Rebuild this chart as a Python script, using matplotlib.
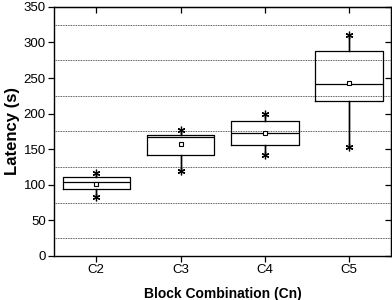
import matplotlib
matplotlib.use("Agg")
import matplotlib.pyplot as plt

# --- data ---
categories = ["C2", "C3", "C4", "C5"]
q1 = [93.8, 142.4, 155.6, 217.4]
median = [103.6, 167.5, 172.4, 241.3]
q3 = [111.5, 170.0, 189.3, 288.1]
mean = [101.6, 157.0, 173.3, 243.6]
whisker_low = [82.5, 119.5, 142.0, 153.2]
whisker_high = [116.7, 176.7, 200.0, 310.2]

plt.rcParams["font.family"] = ["Liberation Sans", "DejaVu Sans"]

fig = plt.figure(figsize=(3.92, 3.0), dpi=100)
ax = fig.add_axes([0.138, 0.147, 0.860, 0.830])

positions = list(range(1, len(categories) + 1))
stats = []
for i, c in enumerate(categories):
    stats.append(dict(label=c, q1=q1[i], med=median[i], q3=q3[i],
                      whislo=whisker_low[i], whishi=whisker_high[i],
                      mean=mean[i], fliers=[]))

ax.bxp(stats, positions=positions, widths=0.8, showmeans=True, showcaps=False,
       showfliers=False,
       boxprops=dict(color="black", linewidth=0.9),
       medianprops=dict(color="black", linewidth=0.9),
       whiskerprops=dict(color="black", linewidth=1.0),
       meanprops=dict(marker="s", markersize=3.2, markerfacecolor="white",
                      markeredgecolor="black", markeredgewidth=0.8))

# whisker lines (explicit) and asterisk ends
ax.vlines(positions, whisker_low, q1, color="black", linewidth=1.0, zorder=3)
ax.vlines(positions, q3, whisker_high, color="black", linewidth=1.0, zorder=3)
ax.plot(positions, whisker_low, linestyle="none", marker=(6, 2, 0),
        markersize=5.5, color="black", markeredgewidth=0.9, zorder=4)
ax.plot(positions, whisker_high, linestyle="none", marker=(6, 2, 0),
        markersize=5.5, color="black", markeredgewidth=0.9, zorder=4)

# dotted grid between the major ticks
for v in range(25, 350, 50):
    ax.axhline(v, color="#222222", linestyle=(0, (1, 1)), linewidth=0.6, zorder=0)

ax.set_xlim(0.5, 4.5)
ax.set_ylim(0, 350)
ax.set_yticks(range(0, 351, 50))
ax.set_xticks(positions)
ax.set_xticklabels(categories)
ax.tick_params(axis="both", direction="out", length=4, width=0.9,
               labelsize=9.5, pad=2)
for s in ax.spines.values():
    s.set_linewidth(1.0)

top = ax.secondary_xaxis("top")
top.set_xticks(positions)
top.set_xticklabels([])
top.tick_params(direction="in", length=4, width=0.9)
right = ax.secondary_yaxis("right")
right.set_yticks(range(0, 351, 50))
right.set_yticklabels([])
right.tick_params(direction="in", length=4, width=0.9)

ax.set_xlabel("Block Combination (Cn)", fontsize=10, fontweight="bold", labelpad=8)
ax.set_ylabel("Latency (s)", fontsize=12, fontweight="bold")
ax.yaxis.set_label_coords(-0.101, 0.5)

fig.savefig("out.png", dpi=100)
